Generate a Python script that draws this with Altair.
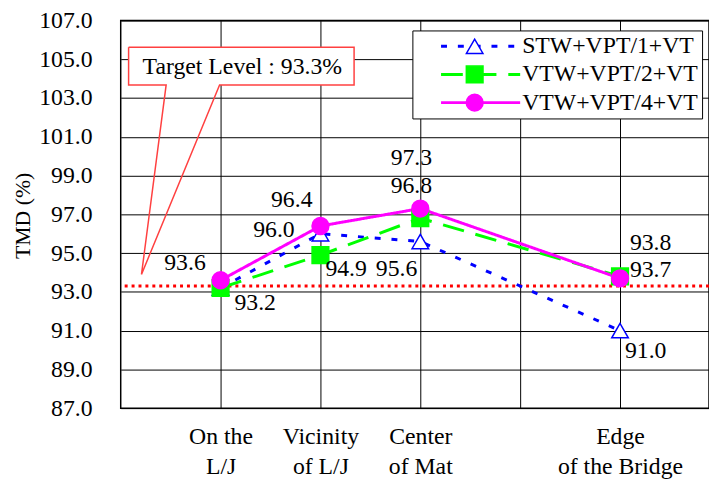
import altair as alt
import pandas as pd

SERIF = "Liberation Serif"

# ---------------- data ----------------
category_lines = [["On the", "L/J"], ["Vicinity", "of L/J"], ["Center", "of Mat"], ["Edge", "of the Bridge"]]
category_pos = [1, 2, 3, 5]
grid_pos = [1, 2, 3, 4, 5]
series_names = ["STW+VPT/1+VT", "VTW+VPT/2+VT", "VTW+VPT/4+VT"]
stw_vpt1 = [93.2, 96.0, 95.6, 91.0]
vtw_vpt2 = [93.2, 94.9, 96.8, 93.8]
vtw_vpt4 = [93.6, 96.4, 97.3, 93.7]
target_level = 93.3
y_ticks = [87, 89, 91, 93, 95, 97, 99, 101, 103, 105, 107]

# ---------------- styles ----------------
line_colors = ["#0000ff", "#00ff00", "#ff00ff"]
line_dashes = [[6, 11], [22, 12], [1, 0]]
marker_shapes = ["triangle-up", "square", "circle"]
marker_fills = ["white", "#00ff00", "#ff00ff"]
marker_sizes = [280, 290, 180]

rows = []
for s, vals in zip(series_names, [stw_vpt1, vtw_vpt2, vtw_vpt4]):
    for p, v in zip(category_pos, vals):
        rows.append({"series": s, "pos": p, "v": v})
df = pd.DataFrame(rows)

# label placement (series index, category index, align, dx, dy)
label_specs = [
    (2, 0, "right", -15, -17),
    (0, 0, "left", 14, 15),
    (2, 1, "right", -8, -26),
    (0, 1, "right", -26, -4),
    (1, 1, "left", 5, 14),
    (0, 2, "right", -3, 28),
    (1, 2, "center", -9, -33),
    (2, 2, "center", -9, -51),
    (1, 3, "left", 10, -34),
    (2, 3, "left", 10, -8),
    (0, 3, "left", 5, 21),
]

# callout geometry (data units)
box_x = [0.079, 2.337]
box_y = [103.68, 105.62]
pointer_base_x = [0.455, 0.99]
pointer_tip = [0.208, 93.9]
callout_text_pos = [1.218, 104.6]

# ---------------- scales / axes ----------------
label_expr = ""
for p, lines_ in zip(category_pos, category_lines):
    label_expr += "datum.value === %d ? [%s] : " % (p, ",".join("'%s'" % t for t in lines_))
label_expr += "''"

X_SCALE = alt.Scale(domain=[0, 595 / 101], nice=False, zero=False)
Y_SCALE = alt.Scale(domain=[87, 107], nice=False, zero=False)

x_axis = alt.Axis(values=grid_pos, labelExpr=label_expr, grid=True, gridColor="black", gridWidth=1,
                  ticks=False, domain=False, labelFont=SERIF, labelFontSize=24, labelColor="black",
                  labelLineHeight=30, labelPadding=17, labelOverlap=False, labelFlush=False, title=None)
y_axis = alt.Axis(values=y_ticks, format=".1f", grid=True, gridColor="black", gridWidth=1,
                  ticks=False, domain=False, labelFont=SERIF, labelFontSize=24, labelColor="black",
                  labelPadding=29, labelFlush=False, labelOverlap=False,
                  title="TMD (%)", titleFont=SERIF, titleFontSize=22, titleFontWeight="normal",
                  titleColor="black", titleAngle=270, titleX=-99, titleY=197,
                  titleAlign="center", titleBaseline="middle")


def X(f):
    return alt.X(f"{f}:Q", scale=X_SCALE, axis=x_axis)


def Y(f):
    return alt.Y(f"{f}:Q", scale=Y_SCALE, axis=y_axis)


leg1 = alt.Legend(orient="none", legendX=295, legendY=10, title=None,
                  symbolType="M-16,0H16", symbolSize=25, symbolStrokeWidth=3,
                  symbolOffset=53, labelOffset=30, labelFont=SERIF, labelFontSize=24,
                  labelColor="black", labelLimit=400, padding=4, rowPadding=4.5,
                  strokeColor="black", fillColor="white")
leg2 = alt.Legend(orient="none", legendX=295, legendY=10, title=None,
                  symbolOffset=47, symbolStrokeWidth=1.5, labelOpacity=0,
                  labelExpr="' '", labelFont=SERIF, labelFontSize=24, labelLimit=400,
                  padding=4, rowPadding=4.5)

# ---------------- layers ----------------
target = alt.Chart(pd.DataFrame({"t": [target_level]})).mark_rule(
    color="#ff0000", strokeWidth=3, strokeDash=[3, 4]).encode(y=Y("t"))

lines = alt.Chart(df).mark_line(strokeWidth=3).encode(
    x=X("pos"), y=Y("v"),
    color=alt.Color("series:N", scale=alt.Scale(domain=series_names, range=line_colors), legend=leg1),
    strokeDash=alt.StrokeDash("series:N", scale=alt.Scale(domain=series_names, range=line_dashes), legend=leg1),
)

points = alt.Chart(df).mark_point(filled=True, opacity=1, strokeWidth=1.5).encode(
    x=X("pos"), y=Y("v"),
    shape=alt.Shape("series:N", scale=alt.Scale(range=marker_shapes), legend=leg2),
    fill=alt.Fill("series:N", scale=alt.Scale(range=marker_fills), legend=leg2),
    stroke=alt.Stroke("series:N", scale=alt.Scale(range=line_colors), legend=leg2),
    size=alt.Size("series:N", scale=alt.Scale(range=marker_sizes), legend=leg2),
)

box_df = pd.DataFrame({"x0": [box_x[0]], "x1": [box_x[1]], "y0": [box_y[0]], "y1": [box_y[1]]})
box = alt.Chart(box_df).mark_rect(color="white").encode(
    x=X("x0"), x2="x1", y=Y("y0"), y2="y1")

outline_df = pd.DataFrame({
    "i": list(range(8)),
    "ux": [box_x[0], box_x[1], box_x[1], pointer_base_x[1], pointer_tip[0], pointer_base_x[0], box_x[0], box_x[0]],
    "uy": [box_y[1], box_y[1], box_y[0], box_y[0], pointer_tip[1], box_y[0], box_y[0], box_y[1]],
})
outline = alt.Chart(outline_df).mark_line(color="#ff4040", strokeWidth=1.5).encode(
    x=X("ux"), y=Y("uy"), order="i:Q")

callout_text = alt.Chart(pd.DataFrame({
    "ux": [callout_text_pos[0]], "uy": [callout_text_pos[1]],
    "label": [f"Target Level : {target_level}%"]})).mark_text(
    font=SERIF, fontSize=24, color="black").encode(x=X("ux"), y=Y("uy"), text="label:N")

label_layers = []
for si, ci, align, dx, dy in label_specs:
    s = series_names[si]
    p = category_pos[ci]
    label_layers.append(
        alt.Chart(df).transform_filter(
            (alt.datum.series == s) & (alt.datum.pos == p)
        ).mark_text(align=align, baseline="middle", dx=dx, dy=dy, font=SERIF, fontSize=24, color="black")
        .encode(x=X("pos"), y=Y("v"), text=alt.Text("v:Q", format=".1f"))
    )

chart = alt.layer(target, lines, points, box, outline, callout_text, *label_layers).properties(
    width=595, height=392,
    autosize=alt.AutoSizeParams(type="none"),
    padding={"left": 114, "top": 10, "right": 0, "bottom": 73},
    background="white",
).configure_view(stroke="black", strokeWidth=1.5)

chart.save("out.html", embed_options={"renderer": "svg", "actions": False})
